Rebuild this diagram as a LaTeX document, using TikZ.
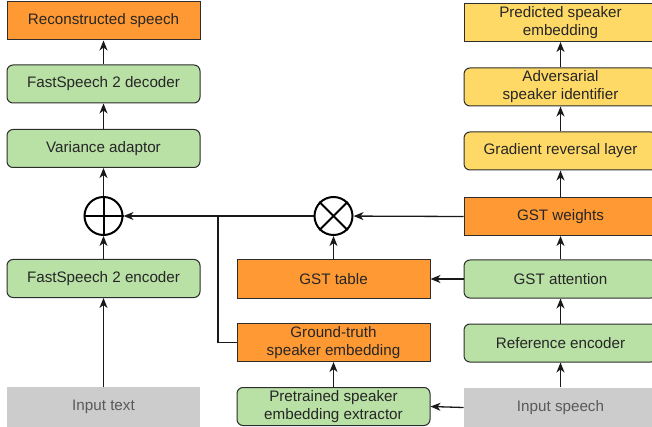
\documentclass[tikz,border=0pt]{standalone}
\usepackage{fontspec}
\setmainfont{Liberation Sans}
\usetikzlibrary{arrows.meta}
\definecolor{boxorange}{RGB}{255,153,51}
\definecolor{boxgreen}{RGB}{185,224,165}
\definecolor{boxyellow}{RGB}{255,217,102}
\definecolor{boxgray}{RGB}{204,204,204}
\definecolor{boxline}{RGB}{45,45,45}
\tikzset{
  box/.style={draw=boxline, line width=1pt, minimum width=193pt, minimum height=38pt,
    inner sep=0pt, align=center, text=black!85, font=\fontsize{15.2}{18}\selectfont},
  orangebox/.style={box, fill=boxorange},
  greenbox/.style={box, fill=boxgreen, rounded corners=6pt},
  yellowbox/.style={box, fill=boxyellow, rounded corners=6pt},
  yellowflat/.style={box, fill=boxyellow},
  graybox/.style={box, draw=none, fill=boxgray, text=black!65, minimum height=40pt},
  opcircle/.style={circle, draw=black, line width=2pt, minimum size=38pt, inner sep=0pt},
  flow/.style={-{Stealth[length=10pt,width=8pt,inset=3pt]}, line width=1.3pt, draw=black!90},
  link/.style={line width=1.3pt, draw=black!90},
}
\begin{document}
\begin{tikzpicture}[x=1pt,y=-1pt]
\useasboundingbox (0,0) rectangle (652,427);
%Left column: text branch
\node [orangebox] (recon) at (103.5,21) {Reconstructed speech};
\node [greenbox] (decoder) at (103.5,84) {FastSpeech 2 decoder};
\node [greenbox] (variance) at (103.5,148.5) {Variance adaptor};
\node [opcircle] (plus) at (103.5,216) {};
\node [greenbox] (encoder) at (103.5,278.5) {FastSpeech 2 encoder};
\node [graybox] (inputtext) at (103.5,407) {Input text};
%Middle column: style tokens and speaker embedding
\node [opcircle] (times) at (333.5,216) {};
\node [orangebox] (gsttable) at (333.5,279) {GST table};
\node [orangebox] (groundtruth) at (333.5,342.5) {Ground-truth\\speaker embedding};
\node [greenbox] (pretrained) at (333.5,406.5) {Pretrained speaker\\embedding extractor};
%Right column: reference branch
\node [yellowflat] (predicted) at (560.5,22.5) {Predicted speaker\\embedding};
\node [yellowbox] (adversarial) at (560.5,87) {Adversarial\\speaker identifier};
\node [yellowbox] (gradient) at (560.5,151) {Gradient reversal layer};
\node [orangebox] (weights) at (560.5,216.5) {GST weights};
\node [greenbox] (attention) at (560.5,279) {GST attention};
\node [greenbox] (reference) at (560.5,343) {Reference encoder};
\node [graybox] (inputspeech) at (560.5,407.5) {Input speech};
%Symbols in the circles
\draw [line width=2pt] (plus.north) -- (plus.south) (plus.west) -- (plus.east);
\draw [line width=2pt] (times.north west) -- (times.south east) (times.north east) -- (times.south west);
%Joining point of the speaker embedding
\coordinate (join) at (218,216);
%Arrows
\draw [flow] (decoder) -- (recon);
\draw [flow] (variance) -- (decoder);
\draw [flow] (plus) -- (variance);
\draw [flow] (encoder) -- (plus);
\draw [flow] (inputtext) -- (encoder);
\draw [flow] (times) -- (plus);
\draw [flow] (weights.west) -- (times);
\draw [flow] (gsttable) -- (times);
\draw [flow] (attention.west) -- (gsttable.east);
\draw [flow] (pretrained) -- (groundtruth);
\draw [flow] (inputspeech.west) -- (pretrained.east);
\draw [link] (groundtruth.west) -| (join);
\draw [flow] (inputspeech) -- (reference);
\draw [flow] (reference) -- (attention);
\draw [flow] (attention) -- (weights);
\draw [flow] (weights) -- (gradient);
\draw [flow] (gradient) -- (adversarial);
\draw [flow] (adversarial) -- (predicted);
\end{tikzpicture}
\end{document}
